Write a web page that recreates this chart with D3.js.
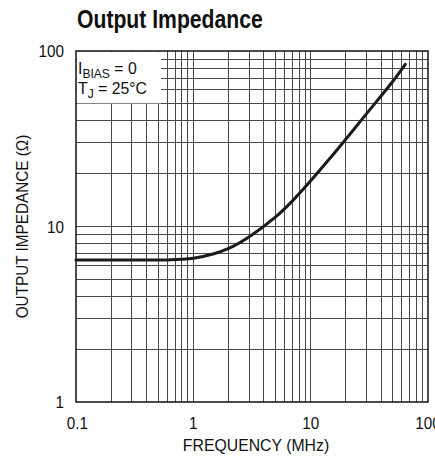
<!DOCTYPE html>
<html>
<head>
<meta charset="utf-8">
<script src="https://cdn.jsdelivr.net/npm/d3@7"></script>
<style>
  body { margin: 0; background: #fff; }
  svg { display: block; }
  text { font-family: "Liberation Sans", Arial, sans-serif; fill: #111; }
</style>
</head>
<body>
<div id="chart"></div>
<script>
// curve
const freq = [0.1, 0.3, 0.6, 0.8, 1, 1.5, 2, 3, 5, 7, 10, 15, 20, 30, 50, 64];
const imp  = [6.45, 6.45, 6.45, 6.5, 6.6, 7.0, 7.5, 8.75, 11.3, 14.0, 18.2, 25.0, 31.5, 44, 67, 84];

const xTicks = [0.1, 1, 10, 100];
const yTicks = [1, 10, 100];
const xTickLabels = ["0.1", "1", "10", "100"];
const yTickLabels = ["1", "10", "100"];

const width = 435, height = 458;
const margin = {left: 76, right: 7, top: 51, bottom: 56};

const svg = d3.select("#chart").append("svg")
  .attr("width", width)
  .attr("height", height);

const x = d3.scaleLog().domain([0.1, 100]).range([margin.left, width - margin.right]);
const y = d3.scaleLog().domain([1, 100]).range([height - margin.bottom, margin.top]);

// condensed look: regular font squeezed sideways
function label(px, py, str, size, sx, anchor, weight, rot) {
  const t = svg.append("text")
    .attr("transform", `translate(${px},${py})` + (rot ? ` rotate(${rot})` : "") + ` scale(${sx},1)`)
    .attr("text-anchor", anchor || "start")
    .style("font-size", size + "px")
    .style("font-weight", weight || "normal");
  if (str) t.text(str);
  return t;
}

// minor + major grid
const xGrid = [];
const yGrid = [];
for (let d = 0.1; d < 100; d *= 10) {
  for (let k = 2; k <= 9; k++) xGrid.push(+(d * k).toPrecision(3));
  if (d > 0.1) xGrid.push(+d.toPrecision(3));
}
for (let d = 1; d < 100; d *= 10) {
  for (let k = 2; k <= 9; k++) yGrid.push(d * k);
  if (d > 1) yGrid.push(d);
}

const grid = svg.append("g")
  .attr("stroke", "#4a4a4a")
  .attr("stroke-width", 1)
  .attr("shape-rendering", "crispEdges");

grid.selectAll(".vx").data(xGrid).enter().append("line")
  .attr("x1", d => x(d)).attr("x2", d => x(d))
  .attr("y1", y(1)).attr("y2", y(100));

grid.selectAll(".hy").data(yGrid).enter().append("line")
  .attr("x1", x(0.1)).attr("x2", x(100))
  .attr("y1", d => y(d)).attr("y2", d => y(d));

// white box behind the conditions text
svg.append("rect")
  .attr("x", x(0.1) + 1)
  .attr("y", y(100) + 1)
  .attr("width", 84)
  .attr("height", y(50) - y(100) - 1.5)
  .attr("fill", "#fff");

// frame
svg.append("rect")
  .attr("x", x(0.1)).attr("y", y(100))
  .attr("width", x(100) - x(0.1))
  .attr("height", y(1) - y(100))
  .attr("fill", "none")
  .attr("stroke", "#111")
  .attr("stroke-width", 1.5);

// the curve
const line = d3.line()
  .x((d, i) => x(freq[i]))
  .y(d => y(d))
  .curve(d3.curveCatmullRom);

svg.append("path")
  .datum(imp)
  .attr("d", line)
  .attr("fill", "none")
  .attr("stroke", "#1a1a1a")
  .attr("stroke-width", 3)
  .attr("stroke-linecap", "round");

// tick labels
xTicks.forEach((d, i) => label(x(d) + (i == 0 ? 1.5 : 0), y(1) + 26.5, xTickLabels[i], 17, 0.9, "middle"));
yTicks.forEach((d, i) => label(x(0.1) - 12, y(d) + 6, yTickLabels[i], 17, 0.9, "end"));

// axis titles
label((x(0.1) + x(100)) / 2 + 4, 451, "FREQUENCY (MHz)", 17, 0.93, "middle");
label(28, (y(1) + y(100)) / 2, "OUTPUT IMPEDANCE (Ω)", 17, 0.9, "middle", "normal", -90);

// title
label(77, 27.7, "Output Impedance", 25.5, 0.83, "start", "bold");

// conditions
const c1 = label(78, 74, null, 17, 0.93);
c1.append("tspan").text("I");
c1.append("tspan").attr("dy", 3.5).style("font-size", "13px").text("BIAS");
c1.append("tspan").attr("dy", -3.5).text(" = 0");

const c2 = label(78, 94, null, 17, 0.93);
c2.append("tspan").text("T");
c2.append("tspan").attr("dy", 3.5).style("font-size", "13px").text("J");
c2.append("tspan").attr("dy", -3.5).text(" = 25°C");
</script>
</body>
</html>
